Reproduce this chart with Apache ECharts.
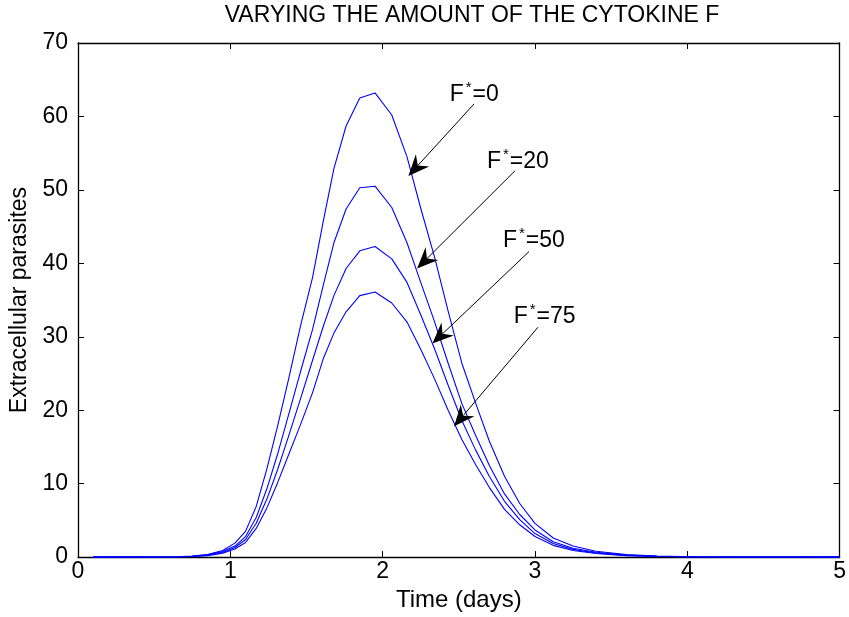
<!DOCTYPE html>
<html>
<head>
<meta charset="utf-8">
<script src="https://cdn.jsdelivr.net/npm/echarts@6/dist/echarts.min.js"></script>
<style>
  html, body { margin: 0; padding: 0; background: #fff; }
  #chart { width: 849px; height: 617px; }
</style>
</head>
<body>
<div id="chart"></div>
<script>
// time points (days)
var times = [0.1, 0.3, 0.5, 0.65, 0.75, 0.85, 0.95, 1.03, 1.1, 1.17, 1.24, 1.31, 1.38, 1.46, 1.54, 1.61, 1.68, 1.76, 1.85, 1.95,
    2.06, 2.16, 2.25, 2.34, 2.43, 2.52, 2.61, 2.7, 2.8, 2.9, 3.0, 3.12, 3.25, 3.4, 3.6, 3.8, 4.05, 4.35, 4.7, 5.0];

// extracellular parasites for each F* value
var f0 = [0, 0, 0.01, 0.05, 0.15, 0.35, 0.9, 1.9, 3.5, 6.9, 12.0, 17.8, 24.0, 31.4, 38.1, 45.7, 52.9, 58.7, 62.5, 63.2,
    60.2, 54.5, 47.5, 40.9, 33.5, 26.4, 21.0, 15.8, 11.0, 7.3, 4.6, 2.6, 1.5, 0.8, 0.35, 0.15, 0.05, 0.02, 0.01, 0];
var f20 = [0, 0, 0.01, 0.04, 0.12, 0.3, 0.75, 1.5, 2.8, 5.4, 9.3, 14.0, 19.2, 25.2, 31.0, 37.0, 42.8, 47.4, 50.3, 50.5,
    47.6, 42.8, 37.4, 32.1, 26.4, 20.9, 16.6, 12.5, 8.6, 5.8, 3.7, 2.1, 1.2, 0.65, 0.28, 0.12, 0.04, 0.015, 0.005, 0];
var f50 = [0, 0, 0.01, 0.03, 0.1, 0.25, 0.62, 1.3, 2.4, 4.6, 7.9, 11.9, 16.3, 21.5, 26.8, 31.4, 35.6, 39.3, 41.7, 42.3,
    40.6, 37.4, 33.0, 28.4, 23.4, 18.6, 14.6, 11.0, 7.6, 5.1, 3.2, 1.85, 1.05, 0.55, 0.24, 0.1, 0.035, 0.012, 0.004, 0];
var f75 = [0, 0, 0.01, 0.03, 0.08, 0.2, 0.52, 1.1, 2.0, 3.9, 6.7, 10.1, 13.8, 18.0, 22.4, 27.0, 30.5, 33.4, 35.6, 36.1,
    34.6, 32.0, 28.3, 24.3, 20.0, 16.0, 12.6, 9.5, 6.5, 4.4, 2.8, 1.6, 0.9, 0.48, 0.2, 0.09, 0.03, 0.01, 0.003, 0];

var seriesNames = ['F*=0', 'F*=20', 'F*=50', 'F*=75'];

// annotation arrows: [startX, startY, tipX, tipY, labelX, labelY] in data units
var arrowData = [
    [2.60, 61.7, 2.169, 51.9, 2.44, 63.0],
    [2.869, 52.6, 2.226, 39.3, 2.685, 53.8],
    [2.961, 41.6, 2.327, 29.1, 2.79, 43.1],
    [3.02, 31.3, 2.469, 17.8, 2.86, 32.7]
];
var arrowLabels = ['0', '20', '50', '75'];

var xTicks = { min: 0, max: 5, interval: 1 };
var yTicks = { min: 0, max: 70, interval: 10 };

var fontFamily = "'Liberation Sans', Arial, sans-serif";
var blue = "#0000ff";

function zip(xs, ys) {
    var rows = [];
    for (let i = 0; i < xs.length; i++) {
        rows.push([xs[i], ys[i]]);
    }
    return rows;
}

function lineSeries(name, values) {
    return {
        name: name,
        type: "line",
        data: zip(times, values),
        showSymbol: false,
        symbol: "none",
        smooth: false,
        lineStyle: { color: blue, width: 1.1 },
        z: 3
    };
}

function renderArrow(params, api) {
    var start = api.coord([api.value(0), api.value(1)]);
    var tip = api.coord([api.value(2), api.value(3)]);
    var lab = api.coord([api.value(4), api.value(5)]);
    var dx = start[0] - tip[0];
    var dy = start[1] - tip[1];
    var len = Math.sqrt(dx * dx + dy * dy);
    var ux = dx / len, uy = dy / len;
    var px = -uy, py = ux;
    var headLen = 21, halfW = 9, notch = 14;
    var back = [tip[0] + ux * headLen, tip[1] + uy * headLen];
    var nb = [tip[0] + ux * notch, tip[1] + uy * notch];
    return {
        type: "group",
        children: [
            {
                type: "line",
                shape: { x1: start[0], y1: start[1], x2: nb[0], y2: nb[1] },
                style: { stroke: "#000", lineWidth: 1 }
            },
            {
                type: "polygon",
                shape: {
                    points: [
                        tip,
                        [back[0] + px * halfW, back[1] + py * halfW],
                        nb,
                        [back[0] - px * halfW, back[1] - py * halfW]
                    ]
                },
                style: { fill: "#000" }
            },
            {
                type: "text",
                x: lab[0],
                y: lab[1],
                style: {
                    text: "{f|F}{s|*}{f|=" + arrowLabels[params.dataIndex] + "}",
                    textAlign: "left",
                    textVerticalAlign: "middle",
                    rich: {
                        f: { fontSize: 23, fontFamily: fontFamily, fill: "#000" },
                        s: { fontSize: 15, fontFamily: fontFamily, fill: "#000", padding: [0, 1, 14, 2] }
                    }
                }
            }
        ]
    };
}

var chart = echarts.init(document.getElementById("chart"), null, { renderer: "canvas" });

var axisLineStyle = { color: "#000", width: 1.3 };
var tickStyle = { show: true, inside: true, length: 6, lineStyle: { color: "#000", width: 1 } };

var option = {
    backgroundColor: "#ffffff",
    animation: false,
    textStyle: { fontFamily: fontFamily },
    grid: { left: 78, right: 8, top: 43, bottom: 54, containLabel: false },
    graphic: [
        {
            type: "text",
            x: 472,
            y: 16,
            style: {
                text: "VARYING THE AMOUNT OF THE CYTOKINE F",
                textAlign: "center",
                textVerticalAlign: "middle",
                fontSize: 23,
                fontFamily: fontFamily,
                fill: "#000"
            }
        }
    ],
    xAxis: [
        {
            type: "value",
            position: "bottom",
            min: xTicks.min, max: xTicks.max, interval: xTicks.interval,
            name: "Time (days)",
            nameLocation: "middle",
            nameGap: 24,
            nameTextStyle: { fontSize: 24, color: "#000", fontFamily: fontFamily },
            axisLine: { show: true, onZero: false, lineStyle: axisLineStyle },
            axisTick: tickStyle,
            axisLabel: { fontSize: 23, color: "#000", margin: 3, fontFamily: fontFamily },
            splitLine: { show: false }
        },
        {
            type: "value",
            position: "top",
            min: xTicks.min, max: xTicks.max, interval: xTicks.interval,
            axisLine: { show: true, onZero: false, lineStyle: axisLineStyle },
            axisTick: tickStyle,
            axisLabel: { show: false },
            splitLine: { show: false }
        }
    ],
    yAxis: [
        {
            type: "value",
            position: "left",
            min: yTicks.min, max: yTicks.max, interval: yTicks.interval,
            name: "Extracellular parasites",
            nameLocation: "middle",
            nameGap: 46,
            nameTextStyle: { fontSize: 23, color: "#000", fontFamily: fontFamily },
            axisLine: { show: true, onZero: false, lineStyle: axisLineStyle },
            axisTick: tickStyle,
            axisLabel: { fontSize: 23, color: "#000", margin: 10, fontFamily: fontFamily },
            splitLine: { show: false }
        },
        {
            type: "value",
            position: "right",
            min: yTicks.min, max: yTicks.max, interval: yTicks.interval,
            axisLine: { show: true, onZero: false, lineStyle: axisLineStyle },
            axisTick: tickStyle,
            axisLabel: { show: false },
            splitLine: { show: false }
        }
    ],
    series: [
        lineSeries(seriesNames[0], f0),
        lineSeries(seriesNames[1], f20),
        lineSeries(seriesNames[2], f50),
        lineSeries(seriesNames[3], f75),
        {
            type: "custom",
            name: "arrows",
            coordinateSystem: "cartesian2d",
            renderItem: renderArrow,
            data: arrowData,
            encode: { x: [0, 2, 4], y: [1, 3, 5] },
            clip: false,
            silent: true,
            z: 5
        }
    ]
};

chart.setOption(option);
</script>
</body>
</html>
